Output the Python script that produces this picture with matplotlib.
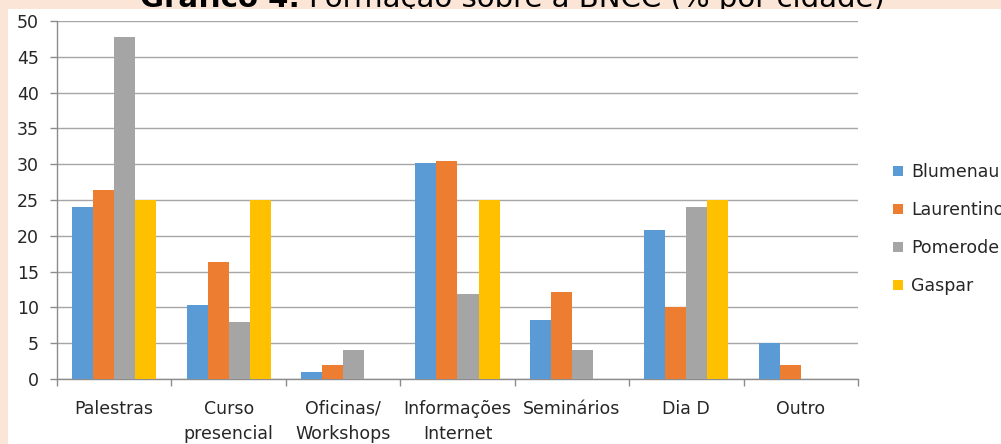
import matplotlib.pyplot as plt
import numpy as np
from matplotlib.patches import Rectangle

plt.rcParams['font.family'] = ['DejaVu Sans']

# Data (% por cidade)
categories = ['Palestras', 'Curso\npresencial', 'Oficinas/\nWorkshops',
              'Informações\nInternet', 'Seminários', 'Dia D', 'Outro']
cities = ['Blumenau', 'Laurentino', 'Pomerode', 'Gaspar']
blumenau = [24.0, 10.4, 1.0, 30.1, 8.3, 20.8, 5.0]
laurentino = [26.4, 16.3, 2.0, 30.5, 12.2, 10.1, 2.0]
pomerode = [47.8, 7.9, 4.0, 11.9, 4.0, 24.0, 0.0]
gaspar = [25.0, 25.0, 0.0, 25.0, 0.0, 25.0, 0.0]
colors = ['#5B9BD5', '#ED7D31', '#A5A5A5', '#FFC000']

W, H = 1001, 444
fig = plt.figure(figsize=(W / 100, H / 100), dpi=100)
fig.patch.set_facecolor('#FBE5D6')
# white chart panel, covers the lower part of the title as in the original
fig.add_artist(Rectangle((8 / W, 0), 1, 1 - 9 / H, transform=fig.transFigure,
                         facecolor='white', edgecolor='none', zorder=1))

ax = fig.add_axes([57 / W, 1 - 379 / H, 801 / W, 358 / H], zorder=2)

x = np.arange(len(categories)) + 0.5
w = 0.184
series = [blumenau, laurentino, pomerode, gaspar]
for i, (vals, name, c) in enumerate(zip(series, cities, colors)):
    ax.bar(x + (i - 1.5) * w, vals, w, color=c, label=name, zorder=3, linewidth=0)

gray = '#8C8C8C'
txt = '#262626'
ax.set_xlim(0, len(categories))
ax.set_ylim(0, 50)
ax.set_yticks(range(0, 51, 5))
ax.yaxis.grid(True, color='#A6A6A6', linewidth=1.0)
for s in ['top', 'right']:
    ax.spines[s].set_visible(False)
for s in ['left', 'bottom']:
    ax.spines[s].set_color(gray)
    ax.spines[s].set_linewidth(1.0)

ax.set_xticks(x)
ax.set_xticklabels(categories, linespacing=1.5)
ax.set_xticks(np.arange(len(categories) + 1), minor=True)
ax.tick_params(axis='x', which='major', length=0, pad=15, labelsize=12.5, labelcolor=txt)
ax.tick_params(axis='x', which='minor', length=5, width=1, color=gray)
ax.tick_params(axis='y', length=5, width=1, color=gray, pad=8, labelsize=12.5, labelcolor=txt)

leg = ax.legend(loc='center left', bbox_to_anchor=(893 / W, 1 - 229 / H),
                bbox_transform=fig.transFigure, frameon=False, fontsize=12.5,
                handlelength=0.55, handleheight=0.55, handletextpad=0.5,
                labelspacing=1.15, borderpad=0, borderaxespad=0)
for t in leg.get_texts():
    t.set_color(txt)

# title: bold part + regular part
renderer = fig.canvas.get_renderer()
t1 = fig.text(140 / W, 1 - 7 / H, 'Gráfico 4:', fontsize=21, weight='bold',
              va='baseline', color='black', zorder=0)
bb = t1.get_window_extent(renderer)
fig.text((bb.x1 + 9) / W, 1 - 7 / H, 'Formação sobre a BNCC (% por cidade)',
         fontsize=21, va='baseline', color='black', zorder=0)

fig.savefig('out.png', dpi=100)
